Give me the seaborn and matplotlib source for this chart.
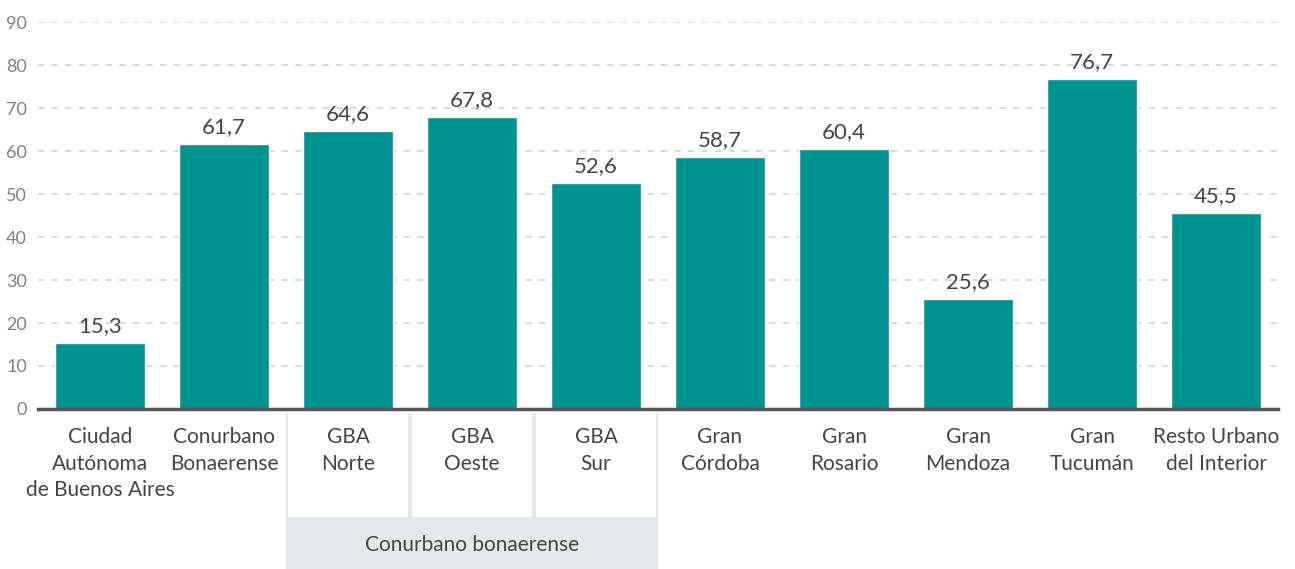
import matplotlib
matplotlib.use("Agg")
import matplotlib.pyplot as plt
import matplotlib.patches as mpatches
import seaborn as sns
import pandas as pd

categorias = ["Ciudad\nAutónoma\nde Buenos Aires", "Conurbano\nBonaerense", "GBA\nNorte",
              "GBA\nOeste", "GBA\nSur", "Gran\nCórdoba", "Gran\nRosario", "Gran\nMendoza",
              "Gran\nTucumán", "Resto Urbano\ndel Interior"]
valores = [15.3, 61.7, 64.6, 67.8, 52.6, 58.7, 60.4, 25.6, 76.7, 45.5]
grupo_label = "Conurbano bonaerense"
yticks = [0, 10, 20, 30, 40, 50, 60, 70, 80, 90]

df = pd.DataFrame({"cat": categorias, "val": valores})

sns.set_style("white")
plt.rcParams["font.family"] = ["Lato", "DejaVu Sans"]

fig = plt.figure(figsize=(12.95, 5.69), dpi=100)
ax = fig.add_axes([0.0293, 0.2812, 0.9576, 0.6801])

sns.barplot(data=df, x="cat", y="val", color="#00928F", saturation=1, width=0.725, ax=ax)

ax.set_xlim(-0.5, 9.5)
ax.set_ylim(0, 90)
ax.set_yticks(yticks)
ax.set_yticklabels([str(t) for t in yticks], fontsize=13, color="#808080")
ax.yaxis.grid(True, linestyle=(0, (3.5, 4)), color="#d6d6d6", linewidth=1.3)
ax.set_axisbelow(True)
for s in ["top", "right", "left"]:
    ax.spines[s].set_visible(False)
ax.spines["bottom"].set_color("#555555")
ax.spines["bottom"].set_linewidth(2.5)
ax.spines["bottom"].set_zorder(5)
ax.tick_params(axis="both", length=0)
ax.tick_params(axis="y", pad=8)
ax.tick_params(axis="x", pad=13)
ax.set_xticks(range(len(categorias)))
ax.set_xticklabels(categorias, fontsize=15, color="#444444", linespacing=1.42, va="top")
ax.set_xlabel("")
ax.set_ylabel("")

for i, v in enumerate(valores):
    ax.annotate(f"{v:.1f}".replace(".", ","), (i, v), xytext=(0, 5), textcoords="offset points",
                ha="center", va="bottom", fontsize=16, color="#444444")

# caja del grupo Conurbano bonaerense
tr = ax.get_xaxis_transform()
ax.add_patch(mpatches.Rectangle((1.5, -0.413), 3.0, 0.403, transform=tr, clip_on=False,
                                facecolor="#e6e7e8", edgecolor="none", zorder=0))
for x0 in [1.5, 2.5, 3.5]:
    ax.add_patch(mpatches.Rectangle((x0 + 0.017, -0.279), 1.0 - 0.034, 0.269, transform=tr,
                                    clip_on=False, facecolor="white", edgecolor="none", zorder=0.5))
ax.text(3.0, -0.352, grupo_label, transform=tr, ha="center", va="center",
        fontsize=15, color="#444444")

fig.savefig("out.png", dpi=100)
